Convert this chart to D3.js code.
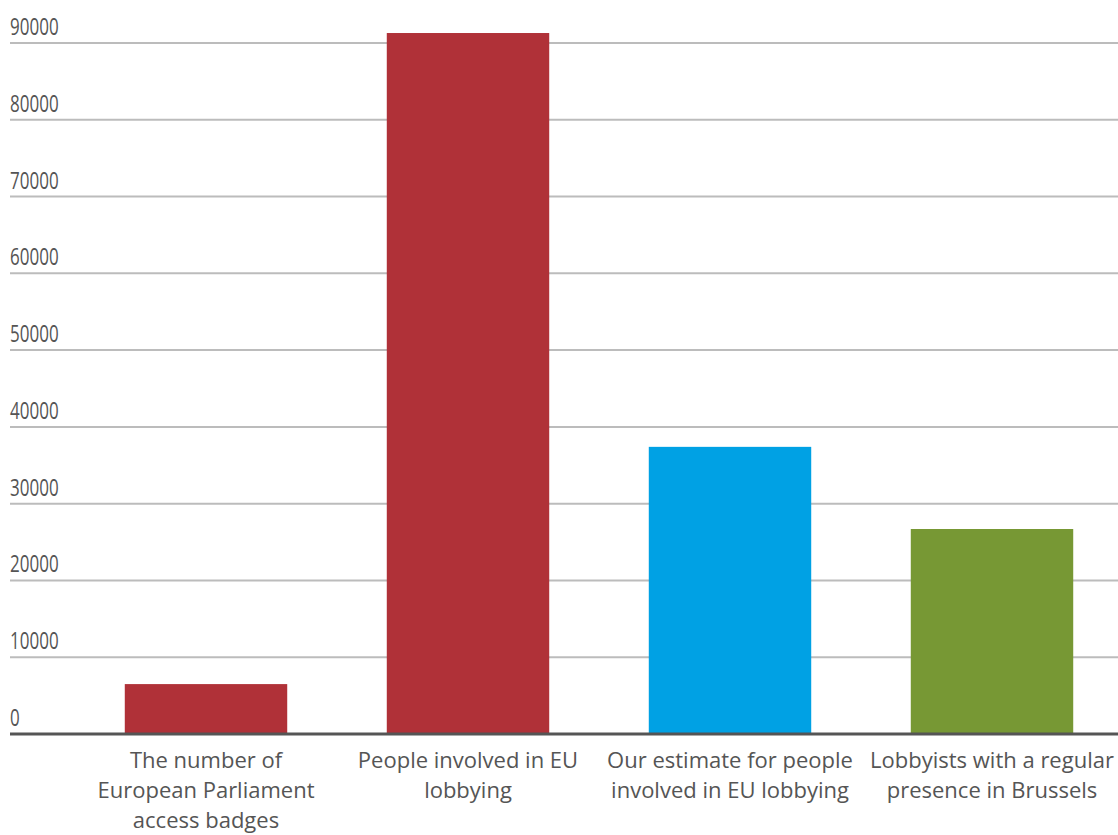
<!DOCTYPE html>
<html>
<head>
<meta charset="utf-8">
<script src="https://cdn.jsdelivr.net/npm/d3@7"></script>
<style>
  html, body { margin: 0; padding: 0; background: #fff; }
  #chart { width: 1118px; height: 835px; }
  text { font-family: "Open Sans", sans-serif; fill: #555; }
</style>
</head>
<body>
<div id="chart"></div>
<script>
// Chart data
const categories = [
  ['The number of', 'European Parliament', 'access badges'],
  ['People involved in EU', 'lobbying'],
  ['Our estimate for people', 'involved in EU lobbying'],
  ['Lobbyists with a regular', 'presence in Brussels']
];
const values = [6500, 91300, 37400, 26700];
const barColors = ['#b03138', '#b03138', '#00a1e4', '#779834'];
const yTicks = [0, 10000, 20000, 30000, 40000, 50000, 60000, 70000, 80000, 90000];

function renderBarChart() {
  const svg = d3.select('#chart')
    .append('svg')
    .attr('width', 1118)
    .attr('height', 835);

  const x = d3.scaleBand()
    .domain(d3.range(values.length))
    .range([75, 1123])
    .paddingInner(0.38)
    .paddingOuter(0.19);

  const y = d3.scaleLinear()
    .domain([0, 90000])
    .range([734, 43]);

  // gridlines
  svg.append('g')
    .selectAll('line')
    .data(yTicks.filter(d => d > 0))
    .enter()
    .append('line')
    .attr('x1', 10)
    .attr('x2', 1118)
    .attr('y1', d => y(d))
    .attr('y2', d => y(d))
    .attr('stroke', '#bcbcbc')
    .attr('stroke-width', 2);

  // tick labels (condensed look)
  svg.append('g')
    .selectAll('text')
    .data(yTicks)
    .enter()
    .append('text')
    .attr('transform', d => `translate(10,${y(d) - 8}) scale(0.74,1)`)
    .attr('font-size', 23)
    .attr('fill', '#666')
    .text(d => d);

  // bars
  svg.selectAll('.bar')
    .data(values)
    .enter()
    .append('rect')
    .attr('class', 'bar')
    .attr('x', (d, i) => x(i))
    .attr('y', d => y(d))
    .attr('width', x.bandwidth())
    .attr('height', d => y(0) - y(d))
    .attr('fill', (d, i) => barColors[i]);

  // baseline
  svg.append('line')
    .attr('x1', 10)
    .attr('x2', 1118)
    .attr('y1', y(0))
    .attr('y2', y(0))
    .attr('stroke', '#555')
    .attr('stroke-width', 3);

  // category labels
  const labels = svg.append('g')
    .selectAll('text')
    .data(categories)
    .enter()
    .append('text')
    .attr('x', (d, i) => x(i) + x.bandwidth() / 2)
    .attr('y', 768)
    .attr('text-anchor', 'middle')
    .attr('font-size', 22);

  labels.selectAll('tspan')
    .data(d => d)
    .enter()
    .append('tspan')
    .attr('x', function () { return d3.select(this.parentNode).attr('x'); })
    .attr('dy', (d, i) => i === 0 ? 0 : 30)
    .text(d => d);
}

renderBarChart();
</script>
</body>
</html>
